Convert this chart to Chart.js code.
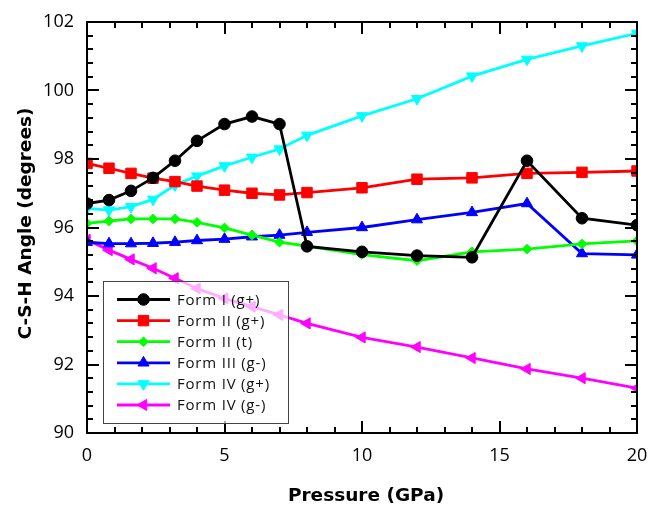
<!DOCTYPE html>
<html>
<head>
<meta charset="utf-8">
<script src="https://cdn.jsdelivr.net/npm/chart.js@4"></script>
<style>
html, body { margin: 0; padding: 0; background: #fff; }
</style>
</head>
<body>
<canvas id="angleChart" width="651" height="505"></canvas>
<script>
// pressure points (GPa), shared by every series
var pressure = [0, 0.8, 1.6, 2.4, 3.2, 4, 5, 6, 7, 8, 10, 12, 14, 16, 18, 20];

// C-S-H angle (degrees)
var formI_gplus  = [96.70, 96.80, 97.07, 97.45, 97.95, 98.53, 99.02, 99.24, 99.02, 95.45, 95.29, 95.18, 95.13, 97.95, 96.27, 96.07];
var formII_gplus = [97.87, 97.73, 97.58, 97.44, 97.34, 97.21, 97.09, 97.00, 96.95, 97.02, 97.16, 97.41, 97.45, 97.58, 97.61, 97.65];
var formII_t     = [96.12, 96.19, 96.25, 96.25, 96.25, 96.15, 95.99, 95.78, 95.57, 95.46, 95.21, 95.03, 95.29, 95.37, 95.52, 95.61];
var formIII_gmin = [95.57, 95.53, 95.53, 95.54, 95.57, 95.62, 95.66, 95.73, 95.78, 95.86, 96.00, 96.23, 96.44, 96.70, 95.24, 95.20];
var formIV_gplus = [96.56, 96.51, 96.61, 96.82, 97.24, 97.50, 97.80, 98.05, 98.29, 98.69, 99.26, 99.76, 100.42, 100.91, 101.30, 101.67];
var formIV_gmin  = [95.64, 95.34, 95.07, 94.81, 94.52, 94.22, 93.93, 93.69, 93.45, 93.20, 92.79, 92.51, 92.19, 91.87, 91.60, 91.31];

var xTicks = [0, 5, 10, 15, 20];
var yTicks = [90, 92, 94, 96, 98, 100, 102];

function pts(vals) {
    return vals.map(function (v, i) { return { x: pressure[i], y: v }; });
}

function series(label, vals, color, style, radius, rot) {
    return {
        label: label,
        data: pts(vals),
        borderColor: color,
        backgroundColor: color,
        pointBackgroundColor: color,
        pointBorderColor: color,
        borderWidth: 2.8,
        pointStyle: style,
        pointRadius: radius,
        pointRotation: rot || 0,
        pointBorderWidth: 1,
        tension: 0,
        clip: 0
    };
}

var datasets = [
    series('Form I (g+)',   formI_gplus,  '#000000', 'circle',   5.8),
    series('Form II (g+)',  formII_gplus, '#ff0000', 'rect',     7.4),
    series('Form II (t)',   formII_t,     '#00ff00', 'rectRot',  4.8),
    series('Form III (g-)', formIII_gmin, '#0000ff', 'triangle', 6.4),
    series('Form IV (g+)',  formIV_gplus, '#00ffff', 'triangle', 6.4, 180),
    series('Form IV (g-)',  formIV_gmin,  '#ff00ff', 'triangle', 6.4, -90)
];

var FONT = '"Open Sans", sans-serif';
var TITLE_FONT = 'bold 18.5px "DejaVu Sans", sans-serif';

// frame with inward ticks, axis titles and the boxed legend
var framePlugin = {
    id: 'framePlugin',
    afterDraw: function (chart) {
        var ctx = chart.ctx, a = chart.chartArea;
        var xs = chart.scales.x, ys = chart.scales.y;
        ctx.save();
        ctx.strokeStyle = '#000';
        ctx.lineWidth = 2;
        ctx.lineCap = 'butt';
        ctx.beginPath();
        for (var g = 0; g <= 20; g += 1) {
            var px = Math.round(xs.getPixelForValue(g));
            var len = (g % 5 === 0) ? 12 : 6;
            ctx.moveTo(px, a.bottom); ctx.lineTo(px, a.bottom - len);
            ctx.moveTo(px, a.top); ctx.lineTo(px, a.top + len);
        }
        for (var k = 0; k <= 30; k++) {
            var v = 90 + k * 0.4;
            var py = Math.round(ys.getPixelForValue(v));
            var l2 = (k % 5 === 0) ? 12 : 6;
            ctx.moveTo(a.left, py); ctx.lineTo(a.left + l2, py);
            ctx.moveTo(a.right, py); ctx.lineTo(a.right - l2, py);
        }
        ctx.stroke();
        ctx.strokeRect(a.left, a.top, a.right - a.left, a.bottom - a.top);

        // axis titles
        ctx.fillStyle = '#000';
        ctx.font = TITLE_FONT;
        ctx.textAlign = 'center';
        ctx.textBaseline = 'alphabetic';
        ctx.fillText('Pressure (GPa)', 366, 500.5);
        ctx.save();
        ctx.translate(31, 223.5);
        ctx.rotate(-Math.PI / 2);
        ctx.fillText('C-S-H Angle (degrees)', 0, 0);
        ctx.restore();

        // legend
        var lx = 103, ly = 281, lw = 185, lh = 142;
        ctx.fillStyle = 'rgba(255,255,255,0.68)';
        ctx.fillRect(lx, ly, lw, lh);
        ctx.lineWidth = 1;
        ctx.strokeStyle = '#444';
        ctx.strokeRect(lx + 0.5, ly + 0.5, lw, lh);
        ctx.font = '15px ' + FONT;
        ctx.letterSpacing = '0.8px';
        ctx.textAlign = 'left';
        ctx.textBaseline = 'middle';
        chart.data.datasets.forEach(function (ds, i) {
            var yy = 299.5 + i * 21.1;
            ctx.strokeStyle = ds.borderColor;
            ctx.lineWidth = 2.8;
            ctx.beginPath();
            ctx.moveTo(117, yy); ctx.lineTo(170, yy);
            ctx.stroke();
            ctx.fillStyle = ds.borderColor;
            ctx.lineWidth = 1;
            Chart.helpers.drawPoint(ctx, {
                pointStyle: ds.pointStyle,
                rotation: ds.pointRotation,
                radius: ds.pointRadius,
                borderWidth: 1
            }, 143.5, yy);
            ctx.fillStyle = '#111';
            ctx.fillText(ds.label, 177, yy + 1);
        });
        ctx.restore();
    }
};

var ctx = document.getElementById('angleChart').getContext('2d');
var chart = new Chart(ctx, {
    type: 'line',
    data: { datasets: datasets },
    options: {
        responsive: false,
        animation: false,
        layout: { padding: { left: 0, right: 14, top: 22, bottom: 0 } },
        plugins: { legend: { display: false }, tooltip: { enabled: false } },
        scales: {
            x: {
                type: 'linear',
                min: 0, max: 20,
                grid: { display: false, drawTicks: false },
                border: { display: false },
                afterBuildTicks: function (s) { s.ticks = xTicks.map(function (v) { return { value: v }; }); },
                afterFit: function (s) { s.height = 72; s.paddingLeft = 0; s.paddingRight = 0; },
                ticks: { color: '#000', font: { family: FONT, size: 18 }, padding: 12, maxRotation: 0 }
            },
            y: {
                type: 'linear',
                min: 90, max: 102,
                grid: { display: false, drawTicks: false },
                border: { display: false },
                afterBuildTicks: function (s) { s.ticks = yTicks.map(function (v) { return { value: v }; }); },
                afterFit: function (s) { s.width = 87; s.paddingTop = 0; s.paddingBottom = 0; },
                ticks: { color: '#000', font: { family: FONT, size: 18 }, padding: 13 }
            }
        }
    },
    plugins: [framePlugin]
});
</script>
</body>
</html>
